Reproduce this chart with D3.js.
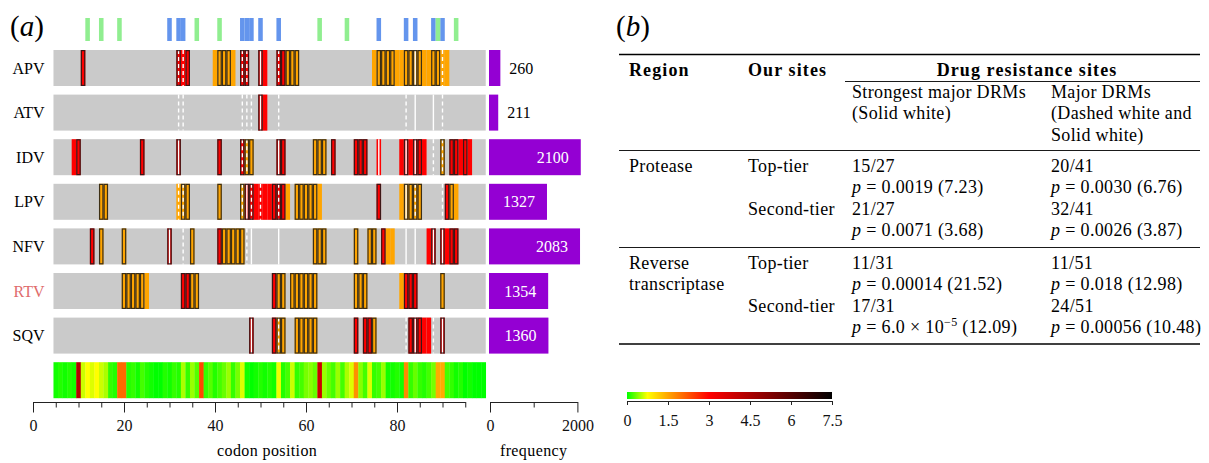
<!DOCTYPE html>
<html>
<head>
<meta charset="utf-8">
<script src="https://cdn.jsdelivr.net/npm/d3@7"></script>
<style>
  body { margin: 0; background: #fff; }
  svg text { font-family: "Liberation Serif", "DejaVu Serif", serif; }
</style>
</head>
<body>
<div class="chart"></div>
<script>
// ---- data ----
var drugs = ["APV", "ATV", "IDV", "LPV", "NFV", "RTV", "SQV"];
var frequency = [260, 211, 2100, 1327, 2083, 1354, 1360];

// codon sites per drug (same order as drugs)
var redSites = [
  [11, 32, 33, 34, 46, 47, 50, 51, 54, 55],
  [50, 51],
  [9, 10, 24, 32, 41, 46, 54, 55, 66, 71, 72, 73, 76, 81, 82, 83, 84, 85, 86, 92, 93, 94, 95, 96],
  [47, 48, 49, 50, 51, 52, 53, 54, 55, 76, 91],
  [13, 30, 41, 77, 87, 88, 90, 91, 92, 93],
  [33, 34, 53, 82, 83, 84],
  [48, 53, 71, 73, 74, 83, 84, 85, 86, 87, 90]
];
var orangeSites = [
  [40, 41, 42, 43, 44, 56, 57, 58, 75, 76, 77, 78, 79, 80, 81, 82, 83, 84, 85, 86, 87, 88, 89, 90, 91],
  [],
  [47, 48, 62, 63, 64, 90],
  [15, 16, 32, 33, 34, 41, 46, 56, 58, 59, 60, 61, 62, 63, 81, 82, 83, 84, 85, 92, 93],
  [15, 20, 35, 42, 43, 44, 45, 46, 62, 63, 64, 71, 74, 75, 78, 79],
  [20, 21, 22, 23, 24, 25, 35, 36, 54, 55, 57, 58, 59, 60, 61, 62, 71, 72, 73, 81, 90],
  [54, 55, 58, 59, 60, 61, 62, 75]
];
var boxedSites = [
  [11, 32, 34, 41, 42, 43, 46, 47, 50, 54, 55, 56, 57, 58, 76, 77, 78, 79, 82, 83, 84, 85, 88, 89],
  [50],
  [10, 24, 32, 41, 46, 47, 48, 54, 55, 62, 63, 64, 66, 71, 72, 73, 82, 84, 85, 90, 92, 93, 95],
  [15, 16, 33, 34, 41, 46, 47, 48, 53, 54, 55, 58, 59, 60, 61, 62, 76, 82, 83, 84, 85, 91, 92],
  [13, 15, 20, 30, 35, 41, 42, 43, 44, 45, 46, 62, 63, 64, 71, 74, 75, 77, 88, 90, 92, 93],
  [20, 21, 22, 23, 24, 33, 34, 35, 36, 53, 54, 55, 57, 58, 59, 60, 61, 62, 71, 72, 73, 82, 83, 84, 90],
  [48, 53, 54, 55, 58, 59, 60, 61, 62, 71, 73, 74, 75, 83, 84, 85, 90]
];
// drug resistance sites: solid white = strongest major, dashed white = major
var solidSites = [
  [50, 84],
  [50, 84, 88],
  [32, 54, 76, 82, 84],
  [47, 82],
  [30, 48, 54, 82, 84, 88, 90],
  [],
  [48, 84, 90]
];
var dashedSites = [
  [32, 33, 46, 47, 54, 90],
  [32, 33, 46, 47, 48, 54, 82, 90],
  [46, 47, 88, 90],
  [32, 33, 46, 48, 50, 54, 84, 90],
  [33, 47],
  [],
  [54, 82, 88]
];

var greenMarks = [12, 15, 19, 36, 41, 63, 69, 89, 93];
var blueMarks = [30, 32, 33, 46, 47, 48, 50, 54, 76, 82, 84, 88, 90];

// per-codon score, codons 5..99
var firstCodon = 5;
var heatValues = [
  0.05, 0.1, 0.05, 0.1, 0.05, 4.3, 0.6, 0.75, 0.65, 0.75,
  0.6, 0.5, 0.15, 0.1, 2.05, 2.05, 0.1, 0.15, 0.05, 0.2,
  0.1, 0.05, 0, 0, 0.1, 0.05, 0.15, 0.1, 0.5, 0.15,
  0.45, 0.25, 2.35, 0.15, 0.25, 0.1, 0.2, 0.3, 0.45, 0.15,
  0.35, 0.65, 0.05, 0, 0.05, 0.1, 0.05, 0.1, 0.05, 0.7,
  0.1, 0.2, 0.6, 0.15, 0.2, 0.35, 0.4, 0.3, 3.9, 0.45,
  0.3, 0.2, 0.45, 0.2, 0.5, 0.65, 1.7, 0.4, 0.2, 0.65,
  0.15, 0.2, 0.45, 0.05, 0.05, 0.1, 0.05, 1.75, 0.15, 0.3,
  0.15, 0.1, 0.2, 0.35, 1.45, 1.45, 0.2, 0.15, 0.05, 0.1,
  0, 0.05, 0, 0, 0
];
var colorStops = [0, 0.75, 1.5, 3, 7.5];
var colorRange = ["#00ff00", "#ffff00", "#ffa500", "#ff0000", "#000000"];
var colorTicks = [0, 1.5, 3, 4.5, 6, 7.5];

// table
var regionNames = [["Protease"], ["Reverse", "transcriptase"]];
var tierNames = ["Top-tier", "Second-tier"];
var strongestFrac = ["15/27", "21/27", "11/31", "17/31"];
var strongestP = ["0.0019 (7.23)", "0.0071 (3.68)", "0.00014 (21.52)", "6.0 × 10^−5 (12.09)"];
var majorFrac = ["20/41", "32/41", "11/51", "24/51"];
var majorP = ["0.0030 (6.76)", "0.0026 (3.87)", "0.018 (12.98)", "0.00056 (10.48)"];

// ---- setup ----
var serif = '"Liberation Serif", "DejaVu Serif", serif';
var svg = d3.select(".chart").append("svg")
  .attr("width", 1209)
  .attr("height", 463)
  .attr("font-family", serif);

var codonCount = heatValues.length;
var xScale = d3.scaleLinear().domain([0, 95]).range([33, 33 + 95 * 4.55]);
var cellW = xScale(1) - xScale(0);
var freqScale = d3.scaleLinear().domain([0, 2000]).range([490, 577.4]);
var heatColor = d3.scaleLinear().domain(colorStops).range(colorRange);

var rowTop = 50, rowStep = 44.6, rowH = 36;
var xLeft = xScale(firstCodon - 0.5), xRight = xScale(firstCodon + codonCount - 0.5);

svg.append("text")
  .attr("x", 10).attr("y", 36)
  .attr("font-size", 29)
  .html('(<tspan font-style="italic">a</tspan>)');

// markers on top
svg.append("g").selectAll("rect")
  .data(blueMarks.map(d => ({c: d, col: "#6495ed"})).concat(greenMarks.map(d => ({c: d, col: "#90ee90"}))))
  .enter().append("rect")
  .attr("x", d => xScale(d.c - 0.5))
  .attr("y", 18)
  .attr("width", cellW)
  .attr("height", 23)
  .attr("fill", d => d.col);

// drug rows
drugs.forEach(function (drug, i) {
  var y0 = rowTop + i * rowStep;
  var g = svg.append("g");

  g.append("text")
    .attr("x", 44.5).attr("y", y0 + rowH / 2 + 5.5)
    .attr("text-anchor", "end")
    .attr("font-size", 16)
    .attr("fill", drug === "RTV" ? "#e06c6c" : "#000")
    .text(drug);

  g.append("rect")
    .attr("x", xLeft).attr("y", y0)
    .attr("width", xRight - xLeft).attr("height", rowH)
    .attr("fill", "#cacaca");

  var cells = redSites[i].map(d => ({c: d, col: "#ff0000"}))
    .concat(orangeSites[i].map(d => ({c: d, col: "#ffa500"})));
  g.selectAll(".cell").data(cells).enter().append("rect")
    .attr("class", "cell")
    .attr("x", d => xScale(d.c - 0.5))
    .attr("y", y0)
    .attr("width", cellW)
    .attr("height", rowH)
    .attr("fill", d => d.col);

  g.selectAll(".solid").data(solidSites[i]).enter().append("line")
    .attr("class", "solid")
    .attr("x1", d => xScale(d)).attr("x2", d => xScale(d))
    .attr("y1", y0).attr("y2", y0 + rowH)
    .attr("stroke", "#fff").attr("stroke-width", 1.4);

  g.selectAll(".dashed").data(dashedSites[i]).enter().append("line")
    .attr("class", "dashed")
    .attr("x1", d => xScale(d)).attr("x2", d => xScale(d))
    .attr("y1", y0).attr("y2", y0 + rowH)
    .attr("stroke", "#fff").attr("stroke-width", 1.4)
    .attr("stroke-dasharray", "4,3");

  g.selectAll(".box").data(boxedSites[i]).enter().append("rect")
    .attr("class", "box")
    .attr("x", d => xScale(d - 0.5) + 0.6)
    .attr("y", y0 + 0.6)
    .attr("width", cellW - 1.2)
    .attr("height", rowH - 1.2)
    .attr("fill", "none")
    .attr("stroke", "#1a1a1a")
    .attr("stroke-opacity", 0.85)
    .attr("stroke-width", 1.2);

  // frequency bar
  var bw = freqScale(frequency[i]) - freqScale(0);
  g.append("rect")
    .attr("x", freqScale(0) - 1).attr("y", y0)
    .attr("width", bw).attr("height", rowH)
    .attr("fill", "#9400d3");

  var inside = bw > 40;
  g.append("text")
    .attr("x", inside ? freqScale(frequency[i]) - 13 : freqScale(frequency[i]) + 8)
    .attr("y", y0 + rowH / 2 + 5.5)
    .attr("text-anchor", inside ? "end" : "start")
    .attr("font-size", 16)
    .attr("fill", inside ? "#fff" : "#000")
    .text(frequency[i]);
});

// heat strip
var heatTop = rowTop + drugs.length * rowStep;
svg.append("g").selectAll("rect")
  .data(heatValues)
  .enter().append("rect")
  .attr("x", (d, k) => xScale(firstCodon + k - 0.5))
  .attr("y", heatTop)
  .attr("width", cellW + 0.3)
  .attr("height", rowH)
  .attr("fill", d => heatColor(d));

// axes
var axisY = 402;
function styleAxis(sel) {
  sel.attr("font-family", serif);
  sel.selectAll("path").attr("stroke", "#222");
  sel.selectAll("line").attr("stroke", "#222");
  sel.selectAll("text").attr("font-size", 16).attr("fill", "#111");
}

var codonMinor = svg.append("g")
  .attr("transform", `translate(0, ${axisY})`)
  .call(d3.axisBottom(xScale).tickValues(d3.range(0, 96, 5)).tickSize(5.5).tickSizeOuter(0).tickFormat(""));
styleAxis(codonMinor);
var codonMajor = svg.append("g")
  .attr("transform", `translate(0, ${axisY})`)
  .call(d3.axisBottom(xScale).tickValues([0, 20, 40, 60, 80]).tickSize(10.5).tickSizeOuter(0).tickPadding(7));
styleAxis(codonMajor);
codonMajor.select("path").remove();

var freqMinor = svg.append("g")
  .attr("transform", `translate(0, ${axisY})`)
  .call(d3.axisBottom(freqScale).tickValues([1000]).tickSize(5.5).tickSizeOuter(0).tickFormat(""));
styleAxis(freqMinor);
var freqMajor = svg.append("g")
  .attr("transform", `translate(0, ${axisY})`)
  .call(d3.axisBottom(freqScale).tickValues([0, 2000]).tickSize(10.5).tickSizeOuter(0).tickPadding(7)
    .tickFormat(d3.format("d")));
styleAxis(freqMajor);
freqMajor.select("path").remove();

svg.append("text")
  .attr("x", (xScale(0) + xScale(95)) / 2 + 18).attr("y", 456)
  .attr("text-anchor", "middle").attr("font-size", 16)
  .attr("letter-spacing", 0.4)
  .text("codon position");
svg.append("text")
  .attr("x", freqScale(1000)).attr("y", 456)
  .attr("text-anchor", "middle").attr("font-size", 16)
  .attr("letter-spacing", 0.4)
  .text("frequency");

// ---- panel (b) ----
svg.append("text")
  .attr("x", 616).attr("y", 36)
  .attr("font-size", 29)
  .html('(<tspan font-style="italic">b</tspan>)');

var tLeft = 619, tRight = 1200;
var col = [629, 748, 852, 1051];
var fs = 18, ls = 0.35;
function rule(y, x1, w) {
  svg.append("line").attr("x1", x1).attr("x2", tRight).attr("y1", y).attr("y2", y)
    .attr("stroke", "#000").attr("stroke-width", w);
}
rule(54.5, tLeft, 1.6);
rule(81.5, 845, 0.9);
rule(150.5, tLeft, 0.9);
rule(247.5, tLeft, 0.9);
rule(344, tLeft, 1.6);

function cell(x, y, txt, opts) {
  var t = svg.append("text").attr("x", x).attr("y", y).attr("font-size", fs)
    .attr("letter-spacing", ls);
  if (opts && opts.bold) t.attr("font-weight", "bold").attr("letter-spacing", 1.1);
  if (opts && opts.anchor) t.attr("text-anchor", opts.anchor);
  t.text(txt);
  return t;
}
function pCell(x, y, val) {
  var t = svg.append("text").attr("x", x).attr("y", y).attr("font-size", fs)
    .attr("letter-spacing", ls);
  t.append("tspan").attr("font-style", "italic").text("p");
  var parts = val.split("^");
  if (parts.length === 1) {
    t.append("tspan").text(" = " + val);
  } else {
    t.append("tspan").text(" = " + parts[0]);
    var sup = parts[1].split(" ");
    t.append("tspan").attr("dy", -7).attr("font-size", 12).text(sup[0]);
    t.append("tspan").attr("dy", 7).text(" " + sup.slice(1).join(" "));
  }
}

cell(col[0], 75.5, "Region", {bold: true});
cell(col[1], 75.5, "Our sites", {bold: true});
cell(1027, 75.5, "Drug resistance sites", {bold: true, anchor: "middle"});
cell(col[2], 97.5, "Strongest major DRMs");
cell(col[2], 119, "(Solid white)");
cell(col[3], 97.5, "Major DRMs");
cell(col[3], 119, "(Dashed white and");
cell(col[3], 140.5, "Solid white)");

var blockTop = [171.5, 268.5];
regionNames.forEach(function (names, r) {
  names.forEach(function (nm, j) { cell(col[0], blockTop[r] + j * 21.6, nm); });
  tierNames.forEach(function (tier, t) {
    var k = r * 2 + t;
    var yb = blockTop[r] + t * 43.2;
    cell(col[1], yb, tier);
    cell(col[2], yb, strongestFrac[k]);
    cell(col[3], yb, majorFrac[k]);
    pCell(col[2], yb + 21.6, strongestP[k]);
    pCell(col[3], yb + 21.6, majorP[k]);
  });
});

// colour bar
var cbScale = d3.scaleLinear().domain([0, 7.5]).range([627, 832]);
var grad = svg.append("defs").append("linearGradient").attr("id", "cbar");
colorStops.forEach(function (s, k) {
  grad.append("stop").attr("offset", s / 7.5).attr("stop-color", colorRange[k]);
});
svg.append("rect")
  .attr("x", cbScale(0)).attr("y", 392)
  .attr("width", cbScale(7.5) - cbScale(0)).attr("height", 7)
  .attr("fill", "url(#cbar)");
var cbAxis = svg.append("g")
  .attr("transform", "translate(0, 401)")
  .call(d3.axisBottom(cbScale).tickValues(colorTicks).tickSize(4).tickSizeOuter(0).tickPadding(10)
    .tickFormat(d3.format("")));
styleAxis(cbAxis);
</script>
</body>
</html>
